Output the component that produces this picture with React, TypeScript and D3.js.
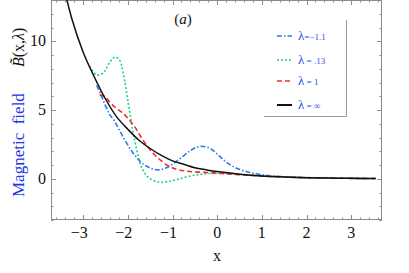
import * as d3 from "d3";
import { useEffect, useRef } from "react";

// curve samples: [x, B]
const blackPts: [number, number][] = [
  [-3.45, 14.2], [-3.25, 11.6], [-3.0, 9.2], [-2.75, 7.4], [-2.5, 5.8], [-2.25, 4.5],
  [-2.0, 3.6], [-1.75, 2.8], [-1.5, 2.2], [-1.25, 1.7], [-1.0, 1.3], [-0.75, 1.05],
  [-0.5, 0.8], [-0.25, 0.65], [0, 0.52], [0.5, 0.33], [1.0, 0.2], [1.5, 0.13],
  [2.0, 0.08], [2.5, 0.05], [3.0, 0.03], [3.55, 0.02],
];
const greenPts: [number, number][] = [
  [-2.85, 8.2], [-2.7, 7.55], [-2.55, 7.7], [-2.4, 8.5], [-2.28, 8.85], [-2.18, 8.6],
  [-2.1, 7.6], [-2.0, 5.7], [-1.9, 3.7], [-1.8, 2.1], [-1.7, 0.9], [-1.6, 0.3],
  [-1.5, 0.0], [-1.3, -0.25], [-1.1, -0.2], [-0.9, -0.05], [-0.6, 0.2], [-0.3, 0.35],
  [0.0, 0.4], [0.3, 0.38], [0.6, 0.3], [0.9, 0.23], [1.3, 0.15], [1.8, 0.09],
  [2.5, 0.05], [3.0, 0.03], [3.55, 0.02],
];
const bluePts: [number, number][] = [
  [-2.7, 6.8], [-2.6, 6.1], [-2.5, 5.3], [-2.4, 4.65], [-2.3, 4.2], [-2.1, 3.0],
  [-1.9, 1.95], [-1.75, 1.35], [-1.6, 0.95], [-1.45, 0.72], [-1.3, 0.65], [-1.15, 0.78],
  [-1.0, 1.05], [-0.8, 1.55], [-0.6, 2.05], [-0.45, 2.3], [-0.3, 2.35], [-0.15, 2.2],
  [0.0, 1.8], [0.15, 1.35], [0.35, 0.9], [0.6, 0.58], [0.9, 0.35], [1.2, 0.22],
  [1.6, 0.13], [2.0, 0.08], [2.5, 0.05], [3.0, 0.03], [3.55, 0.02],
];
const redPts: [number, number][] = [
  [-2.63, 6.1], [-2.5, 5.95], [-2.4, 5.55], [-2.25, 5.1], [-2.1, 4.75], [-2.0, 4.4],
  [-1.85, 3.8], [-1.7, 3.0], [-1.55, 2.3], [-1.4, 1.75], [-1.25, 1.3], [-1.1, 0.95],
  [-0.9, 0.68], [-0.7, 0.56], [-0.5, 0.5], [-0.2, 0.45], [0.1, 0.38], [0.5, 0.3],
  [1.0, 0.2], [1.5, 0.13], [2.0, 0.08], [2.5, 0.05], [3.0, 0.03], [3.55, 0.02],
];

const series = [
  { pts: bluePts, color: "#2b7bf0", dash: "5,2,1.5,2", label: "=−1.1" },
  { pts: greenPts, color: "#1fd47a", dash: "2,2", label: " = .13" },
  { pts: redPts, color: "#f52a2a", dash: "5,3", label: " = 1" },
  { pts: blackPts, color: "#111111", dash: null, label: " = ∞" },
];

const xTicks = [-3, -2, -1, 0, 1, 2, 3];
const yTicks = [0, 5, 10];

const SERIF = "Liberation Serif, Times New Roman, DejaVu Serif, serif";

const App = () => {
  const ref = useRef<SVGSVGElement>(null);

  useEffect(() => {
    if (ref && ref.current) ref.current.innerHTML = "";

    const width = 409;
    const height = 273;
    const left = 51, right = 382, top = 0, bottom = 220;

    const x = d3.scaleLinear().domain([-3.72, 3.69]).range([left, right]);
    const y = d3.scaleLinear().domain([-3, 13]).range([bottom, top]);

    const svg = d3.select(ref.current)
      .attr("width", width)
      .attr("height", height)
      .attr("font-family", SERIF);

    svg.append("clipPath").attr("id", "plot-clip")
      .append("rect")
      .attr("x", left).attr("y", top)
      .attr("width", right - left).attr("height", bottom - top);

    // frame with ticks on every side
    const axisColor = "#8a8a8a";
    const frame = svg.append("g").attr("stroke", axisColor).attr("stroke-width", 1);
    frame.append("rect")
      .attr("x", left + 0.5).attr("y", top + 0.5)
      .attr("width", right - left - 1).attr("height", bottom - top - 1)
      .attr("fill", "none");

    const xMinor = d3.range(-36, 37, 2).map(v => v / 10);
    xMinor.forEach(v => {
      const major = Math.abs(v - Math.round(v)) < 1e-6;
      const len = major ? 5 : 2.5;
      const px = Math.round(x(v)) + 0.5;
      frame.append("line").attr("x1", px).attr("x2", px).attr("y1", bottom).attr("y2", bottom - len);
      frame.append("line").attr("x1", px).attr("x2", px).attr("y1", top).attr("y2", top + len);
    });
    d3.range(-3, 14).forEach(v => {
      const major = v % 5 === 0;
      const len = major ? 5 : 2.5;
      const py = Math.round(y(v)) + 0.5;
      frame.append("line").attr("y1", py).attr("y2", py).attr("x1", left).attr("x2", left + len);
      frame.append("line").attr("y1", py).attr("y2", py).attr("x1", right).attr("x2", right - len);
    });

    // tick labels
    svg.append("g").selectAll("text").data(xTicks).join("text")
      .attr("x", d => x(d) - (d < 0 ? 4 : 0))
      .attr("y", 238)
      .attr("text-anchor", "middle")
      .attr("font-family", SERIF)
      .attr("font-size", 16)
      .attr("fill", "#111")
      .text(d => d < 0 ? `−${Math.abs(d)}` : `${d}`);
    svg.append("g").selectAll("text").data(yTicks).join("text")
      .attr("x", 46)
      .attr("y", d => y(d) + 5)
      .attr("text-anchor", "end")
      .attr("font-family", SERIF)
      .attr("font-size", 16)
      .attr("fill", "#111")
      .text(d => `${d}`);

    svg.append("text")
      .attr("x", 217).attr("y", 261)
      .attr("text-anchor", "middle")
      .attr("font-family", SERIF)
      .attr("font-size", 16)
      .attr("fill", "#111")
      .text("x");

    // y label
    svg.append("text")
      .attr("transform", "translate(24,197) rotate(-90)")
      .attr("font-family", SERIF)
      .attr("font-size", 17)
      .attr("fill", "#2336e8")
      .attr("xml:space", "preserve")
      .text("Magnetic  field");
    const bl = svg.append("text")
      .attr("transform", "translate(24,67) rotate(-90)")
      .attr("font-family", SERIF)
      .attr("font-size", 16)
      .attr("fill", "#111");
    bl.append("tspan").attr("font-style", "italic").text("B\u0303");
    bl.append("tspan").text("(x,");
    bl.append("tspan").attr("font-style", "italic").text("λ");
    bl.append("tspan").text(")");

    // panel tag
    const tag = svg.append("text")
      .attr("x", 183).attr("y", 24)
      .attr("text-anchor", "middle")
      .attr("font-family", SERIF)
      .attr("font-size", 15)
      .attr("fill", "#111");
    tag.append("tspan").text("(");
    tag.append("tspan").attr("font-style", "italic").text("a");
    tag.append("tspan").text(")");

    // curves
    const line = d3.line<[number, number]>()
      .x(d => x(d[0]))
      .y(d => y(d[1]))
      .curve(d3.curveCatmullRom.alpha(0.5));

    const curves = svg.append("g").attr("clip-path", "url(#plot-clip)");
    series.forEach(s => {
      curves.append("path")
        .attr("d", line(s.pts))
        .attr("fill", "none")
        .attr("stroke", s.color)
        .attr("stroke-width", s.dash ? 1.6 : 1.5)
        .attr("stroke-dasharray", s.dash);
    });

    // legend
    const lg = svg.append("g");
    lg.append("path")
      .attr("d", "M264,116.5 H346.5 V20")
      .attr("fill", "none")
      .attr("stroke", "#9a9a9a")
      .attr("stroke-width", 1);
    const rows = [36, 60, 81, 105];
    series.forEach((s, i) => {
      const ry = rows[i];
      lg.append("line")
        .attr("x1", 277).attr("x2", 292)
        .attr("y1", ry).attr("y2", ry)
        .attr("stroke", s.color)
        .attr("stroke-width", s.dash ? 1.6 : 2)
        .attr("stroke-dasharray", s.dash);
      const t = lg.append("text")
        .attr("x", 298).attr("y", ry + 4)
        .attr("font-family", SERIF)
        .attr("fill", "#2b4df0")
        .attr("xml:space", "preserve");
      t.append("tspan").attr("font-size", 13).text("λ");
      t.append("tspan").attr("font-size", 9).text(s.label);
    });
  }, []);

  return (
    <div style={{ position: "absolute", left: 0, top: 0 }}>
      <svg ref={ref} />
    </div>
  );
};

export default App;
